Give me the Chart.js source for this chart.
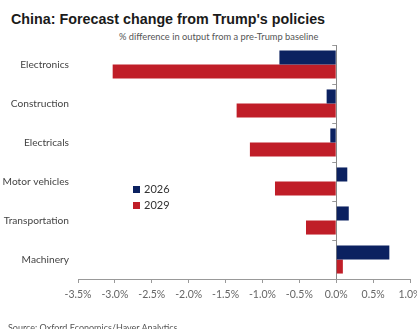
<!DOCTYPE html>
<html>
<head>
<meta charset="utf-8">
<script src="https://cdn.jsdelivr.net/npm/chart.js@4"></script>
<style>
    html, body { margin: 0; padding: 0; background: #fff; overflow: hidden; }
    body { width: 417px; height: 329px; position: relative; }
    #title { position: absolute; left: 11px; top: 11px; font: bold 14.3px "Liberation Sans", Arial, sans-serif; color: #1a1a1a; white-space: nowrap; }
    #subtitle { position: absolute; left: 119px; top: 31px; font: 9.3px Lato, sans-serif; color: #555; white-space: nowrap; }
    #source { position: absolute; left: 8px; top: 322px; font: 9px Lato, sans-serif; color: #555; white-space: nowrap; }
    #legend { position: absolute; left: 133px; top: 181px; font: 11px Lato, sans-serif; color: #333; }
    #legend div { height: 16px; line-height: 16px; white-space: nowrap; }
    #legend span { display: inline-block; width: 7px; height: 7px; margin-right: 4px; vertical-align: 0px; }
    #wrap { position: absolute; left: 0; top: 0; width: 440px; height: 329px; }
</style>
</head>
<body>
<div id="title">China: Forecast change from Trump's policies</div>
<div id="subtitle">% difference in output from a pre-Trump baseline</div>
<div id="wrap"><canvas id="myChart"></canvas></div>
<div id="legend"></div>
<div id="source">Source: Oxford Economics/Haver Analytics</div>
<script>
const sectors = ['Electronics', 'Construction', 'Electricals', 'Motor vehicles', 'Transportation', 'Machinery'];
const values2026 = [-0.77, -0.13, -0.08, 0.15, 0.17, 0.72];
const values2029 = [-3.03, -1.35, -1.17, -0.83, -0.41, 0.09];
const seriesNames = ['2026', '2029'];
const seriesColors = ['#0b2160', '#c01e28'];

// little tick marks on the zero line between categories
const zeroTicks = {
    id: 'zeroTicks',
    afterDatasetsDraw(chart) {
        const ctx = chart.ctx;
        const x0 = chart.scales.x.getPixelForValue(0);
        const ys = chart.scales.y;
        const area = chart.chartArea;
        const marks = [area.top];
        for (let i = 0; i < sectors.length - 1; i++) {
            marks.push((ys.getPixelForValue(i) + ys.getPixelForValue(i + 1)) / 2);
        }
        ctx.save();
        ctx.strokeStyle = '#999';
        ctx.lineWidth = 1;
        for (let y of marks) {
            ctx.beginPath();
            ctx.moveTo(x0 - 4, Math.round(y) + 0.5);
            ctx.lineTo(x0, Math.round(y) + 0.5);
            ctx.stroke();
        }
        ctx.restore();
    }
};

const legend = document.getElementById('legend');
seriesNames.forEach((name, i) => {
    const row = document.createElement('div');
    const box = document.createElement('span');
    box.style.background = seriesColors[i];
    row.append(box, name);
    legend.appendChild(row);
});

var ctx = document.getElementById('myChart').getContext('2d');
// eslint-disable-next-line no-undef
new Chart(ctx, {
    type: 'bar',
    data: {
        labels: sectors,
        datasets: [{
            label: seriesNames[0],
            data: values2026,
            backgroundColor: seriesColors[0],
            categoryPercentage: 0.72,
            barPercentage: 1.0
        },
        {
            label: seriesNames[1],
            data: values2029,
            backgroundColor: seriesColors[1],
            categoryPercentage: 0.72,
            barPercentage: 1.0
        }]
    },
    options: {
        indexAxis: 'y',
        responsive: true,
        maintainAspectRatio: false,
        animation: false,
        layout: { padding: { top: 45, right: 30, bottom: 0, left: 0 } },
        plugins: {
            legend: { display: false },
            tooltip: { enabled: false }
        },
        scales: {
            x: {
                min: -3.5,
                max: 1.0,
                afterFit: (scale) => { scale.height = 50; },
                ticks: {
                    stepSize: 0.5,
                    autoSkip: false,
                    maxRotation: 0,
                    padding: 5,
                    color: '#666',
                    font: { family: 'Lato', size: 10.5 },
                    callback: (v) => v.toFixed(1) + '%'
                },
                grid: {
                    color: (c) => (c.tick && c.tick.value === 0) ? '#888' : 'rgba(0,0,0,0)',
                    tickColor: '#999',
                    tickLength: 4
                },
                border: { display: true, color: '#999' }
            },
            y: {
                afterFit: (scale) => { scale.width = 78; },
                ticks: {
                    padding: 9,
                    color: '#444',
                    font: { family: 'Lato', size: 10.2 }
                },
                grid: { display: false, drawTicks: false },
                border: { display: false }
            }
        }
    },
    plugins: [zeroTicks]
});
</script>
</body>
</html>
